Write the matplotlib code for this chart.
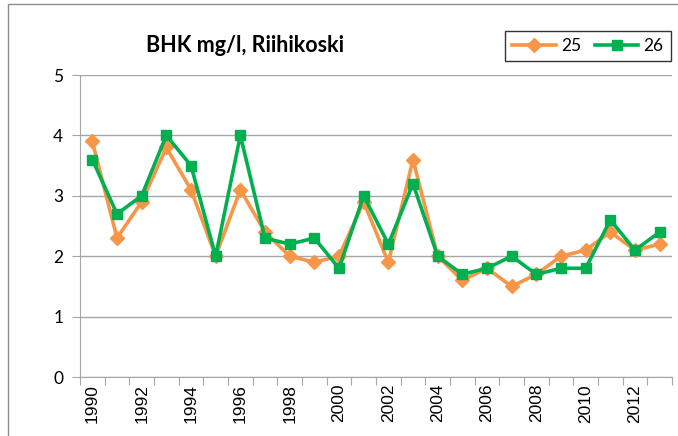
import matplotlib
matplotlib.use('Agg')
import matplotlib.pyplot as plt
from matplotlib.lines import Line2D
import numpy as np

years = list(range(1990, 2014))
s25 = [3.9, 2.3, 2.9, 3.8, 3.1, 2.0, 3.1, 2.4, 2.0, 1.9, 2.0, 2.9,
       1.9, 3.6, 2.0, 1.6, 1.8, 1.5, 1.7, 2.0, 2.1, 2.4, 2.1, 2.2]
s26 = [3.6, 2.7, 3.0, 4.0, 3.5, 2.0, 4.0, 2.3, 2.2, 2.3, 1.8, 3.0,
       2.2, 3.2, 2.0, 1.7, 1.8, 2.0, 1.7, 1.8, 1.8, 2.6, 2.1, 2.4]
labels = ["25", "26"]

ORANGE = "#F79646"
GREEN = "#00B050"
GRID = "#A6A6A6"

fig = plt.figure(figsize=(6.78, 4.36), dpi=100)
ax = fig.add_axes([80 / 678, 1 - 377 / 436, (672 - 80) / 678, (377 - 75) / 436])

x = np.arange(len(years))
ax.plot(x, s25, color=ORANGE, lw=2.6, marker="D", ms=7.5, label=labels[0], zorder=3)
ax.plot(x, s26, color=GREEN, lw=2.6, marker="s", ms=7.5, label=labels[1], zorder=4)

ax.set_xlim(-0.5, len(years) - 0.5)
ax.set_ylim(0, 5)
ax.set_yticks(range(0, 6))
ax.yaxis.grid(True, color=GRID, lw=1)
ax.set_axisbelow(True)

# category boundary ticks, labels on every other category
ax.set_xticks(np.arange(-0.5, len(years), 1.0))
ax.set_xticklabels([])
ax.set_xticks(x[::2], minor=True)
ax.set_xticklabels([str(y) for y in years[::2]], minor=True, rotation=90,
                   fontsize=12.5, family="Liberation Sans")
ax.tick_params(axis="x", which="major", length=6, color=GRID, direction="out")
ax.tick_params(axis="x", which="minor", length=0, pad=5)
ax.tick_params(axis="y", length=6, color=GRID, labelsize=12.5, pad=6)
for lab in ax.get_yticklabels():
    lab.set_family("Lato")

for side in ["top", "right"]:
    ax.spines[side].set_visible(False)
for side in ["left", "bottom"]:
    ax.spines[side].set_color(GRID)

fig.text(245 / 678, 1 - 45 / 436, "BHK mg/l, Riihikoski", ha="center", va="center",
         fontsize=15.5, fontweight="bold", family="Lato")

handles = [Line2D([], [], color=ORANGE, lw=2.6, marker="D", ms=7.5),
           Line2D([], [], color=GREEN, lw=2.6, marker="s", ms=7.5)]
leg = fig.legend(handles, labels, loc="center", ncol=2,
                 bbox_to_anchor=(588 / 678, 1 - 46 / 436),
                 frameon=True, fancybox=False, edgecolor="black",
                 prop={"family": "Lato", "size": 12.5},
                 handlelength=2.5, handletextpad=0.3, columnspacing=0.8,
                 borderpad=0.4)
leg.get_frame().set_linewidth(1.0)

# chart area border
fig.add_artist(plt.Rectangle((8 / 678, -0.05), 1.2, 1 - 4 / 436 + 0.05,
                             transform=fig.transFigure, fill=False,
                             edgecolor="#8C8C8C", lw=1))

fig.savefig("out.png", dpi=100)
